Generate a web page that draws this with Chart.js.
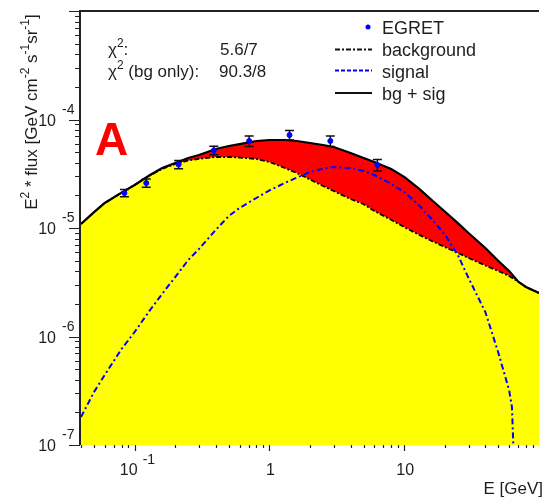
<!DOCTYPE html>
<html>
<head>
<meta charset="utf-8">
<script src="https://cdn.jsdelivr.net/npm/chart.js@4.4.0/dist/chart.umd.min.js"></script>
<style>
  body { margin: 0; background: #fff; }
</style>
</head>
<body>
<canvas id="spectrum" width="544" height="497"></canvas>
<script>
/* gamma-ray spectrum: EGRET points, background, signal and bg + sig */
const ENERGY = [0.04, 0.05, 0.06, 0.08, 0.1, 0.13, 0.16, 0.2, 0.25, 0.3, 0.4, 0.5, 0.6, 0.8,
  1, 1.3, 1.6, 2, 2.5, 3, 4, 5, 6, 8, 10, 13, 16, 20, 25, 30, 40, 50, 60, 70, 80, 100];

const BACKGROUND = [1.09e-5, 1.40e-5, 1.70e-5, 2.12e-5, 2.49e-5, 3.05e-5, 3.50e-5, 3.89e-5, 4.19e-5,
  4.33e-5, 4.51e-5, 4.51e-5, 4.46e-5, 4.33e-5, 4.06e-5, 3.57e-5, 3.21e-5, 2.80e-5, 2.44e-5, 2.19e-5,
  1.85e-5, 1.66e-5, 1.435e-5, 1.19e-5, 1.02e-5, 8.61e-6, 7.59e-6, 6.68e-6, 5.89e-6, 5.30e-6,
  4.51e-6, 4.02e-6, 3.61e-6, 3.21e-6, 2.86e-6, 2.52e-6];

const TOTAL = [1.09e-5, 1.40e-5, 1.70e-5, 2.12e-5, 2.49e-5, 3.08e-5, 3.57e-5, 3.97e-5, 4.42e-5,
  4.71e-5, 5.35e-5, 5.70e-5, 5.94e-5, 6.34e-5, 6.47e-5, 6.47e-5, 6.34e-5, 6.07e-5, 5.82e-5, 5.58e-5,
  4.91e-5, 4.42e-5, 4.06e-5, 3.50e-5, 2.96e-5, 2.28e-5, 1.81e-5, 1.42e-5, 1.11e-5, 8.99e-6,
  6.55e-6, 4.97e-6, 4.02e-6, 3.21e-6, 2.86e-6, 2.52e-6];

const SIGNAL_E = [0.04, 0.05, 0.06, 0.08, 0.1, 0.13, 0.16, 0.2, 0.25, 0.3, 0.4, 0.5, 0.6, 0.8,
  1, 1.3, 1.6, 2, 2.5, 3, 4, 5, 6, 8, 10, 13, 16, 20, 25, 30, 40, 50, 60, 63, 64.5];

const SIGNAL = [1.81e-7, 3.08e-7, 4.42e-7, 7.67e-7, 1.10e-6, 1.75e-6, 2.47e-6, 3.53e-6, 5.07e-6,
  6.40e-6, 9.60e-6, 1.29e-5, 1.53e-5, 1.89e-5, 2.22e-5, 2.60e-5, 2.92e-5, 3.28e-5, 3.53e-5, 3.65e-5,
  3.57e-5, 3.35e-5, 3.08e-5, 2.55e-5, 2.15e-5, 1.60e-5, 1.21e-5, 8.71e-6, 5.64e-6, 3.46e-6,
  1.68e-6, 7.05e-7, 3.21e-7, 2.24e-7, 1.0e-7];

// EGRET data with symmetric errors
const EGRET_E = [0.084, 0.122, 0.212, 0.387, 0.707, 1.41, 2.83, 6.32];
const EGRET_FLUX = [2.10e-5, 2.60e-5, 3.85e-5, 5.20e-5, 6.34e-5, 7.19e-5, 6.34e-5, 3.81e-5];
const EGRET_ERR = [0.16e-5, 0.23e-5, 0.34e-5, 0.46e-5, 0.71e-5, 0.72e-5, 0.71e-5, 0.46e-5];

// axis ticks
const Y_DECADES = [-7, -6, -5, -4];
const X_TICKS = [0.1, 1, 10];
const X_TICK_BASE = ['10', '1', '10'];
const X_TICK_EXP = ['-1', '', ''];

const FONT = '"Liberation Sans", Arial, sans-serif';
const INK = '#1e1e1e';
const BG_DASH = [5, 2, 2, 2];
const SIG_DASH = [6, 3, 2, 3];

const pts = (xs, ys) => xs.map((x, i) => ({ x: x, y: ys[i] }));

// text with raised pieces, parts = [[text, raised], ...]
function richWidth(ctx, parts, size, supSize) {
    let w = 0;
    parts.forEach(([t, up]) => {
        ctx.font = (up ? supSize : size) + 'px ' + FONT;
        w += ctx.measureText(t).width;
    });
    return w;
}
function richText(ctx, parts, x, y, size, supSize, rise) {
    let cx = x;
    parts.forEach(([t, up]) => {
        ctx.font = (up ? supSize : size) + 'px ' + FONT;
        ctx.fillText(t, cx, up ? y - rise : y);
        cx += ctx.measureText(t).width;
    });
}

const decorations = {
    id: 'decorations',
    beforeDatasetDraw(chart, args) {
        if (args.index !== 0) return;
        // error bars go under the markers
        const { ctx, scales: { x, y } } = chart;
        ctx.save();
        ctx.strokeStyle = '#111';
        ctx.lineWidth = 1.5;
        EGRET_E.forEach((e, i) => {
            const px = x.getPixelForValue(e);
            const top = y.getPixelForValue(EGRET_FLUX[i] + EGRET_ERR[i]);
            const bot = y.getPixelForValue(EGRET_FLUX[i] - EGRET_ERR[i]);
            ctx.beginPath();
            ctx.moveTo(px, top); ctx.lineTo(px, bot);
            ctx.moveTo(px - 4.5, top); ctx.lineTo(px + 4.5, top);
            ctx.moveTo(px - 4.5, bot); ctx.lineTo(px + 4.5, bot);
            ctx.stroke();
        });
        ctx.restore();
    },
    afterDraw(chart) {
        const { ctx, chartArea: a, scales: { x, y } } = chart;
        ctx.save();

        // frame
        ctx.strokeStyle = '#222';
        ctx.lineWidth = 2;
        ctx.beginPath();
        ctx.moveTo(a.left - 1, a.bottom);
        ctx.lineTo(a.left - 1, a.top);
        ctx.lineTo(a.right, a.top);
        ctx.stroke();

        // y ticks
        ctx.lineWidth = 1.2;
        ctx.beginPath();
        for (let d = -7; d <= -3; d++) {
            const py = Math.round(y.getPixelForValue(Math.pow(10, d))) + 0.5;
            ctx.moveTo(a.left - 12, py); ctx.lineTo(a.left - 1, py);
            if (d === -3) continue;
            for (let m = 2; m <= 9; m++) {
                const my = Math.round(y.getPixelForValue(m * Math.pow(10, d))) + 0.5;
                ctx.moveTo(a.left - 6, my); ctx.lineTo(a.left - 1, my);
            }
        }
        // x ticks
        for (let d = -2; d <= 1; d++) {
            for (let m = 1; m <= 9; m++) {
                const v = m * Math.pow(10, d);
                if (v < 0.04 || v > 100) continue;
                const px = Math.round(x.getPixelForValue(v)) + 0.5;
                ctx.moveTo(px, a.bottom); ctx.lineTo(px, a.bottom + (m === 1 ? 6 : 3));
            }
        }
        ctx.stroke();

        ctx.fillStyle = INK;
        ctx.textBaseline = 'alphabetic';

        // y tick labels
        Y_DECADES.forEach(d => {
            const py = y.getPixelForValue(Math.pow(10, d));
            ctx.font = '16px ' + FONT;
            ctx.textAlign = 'right';
            ctx.fillText('10', a.left - 25, py + 6);
            ctx.textAlign = 'left';
            ctx.font = '14px ' + FONT;
            ctx.fillText(String(d), a.left - 19, py - 6);
        });

        // x tick labels
        X_TICKS.forEach((v, i) => {
            const px = x.getPixelForValue(v);
            ctx.font = '16px ' + FONT;
            ctx.textAlign = 'center';
            if (X_TICK_EXP[i]) {
                ctx.fillText(X_TICK_BASE[i], px - 6, a.bottom + 30);
                ctx.textAlign = 'left';
                ctx.font = '14px ' + FONT;
                ctx.fillText(X_TICK_EXP[i], px + 8, a.bottom + 19);
            } else {
                ctx.fillText(X_TICK_BASE[i], px + 1, a.bottom + 30);
            }
        });

        // axis titles
        ctx.textAlign = 'right';
        ctx.font = '17px ' + FONT;
        ctx.fillText('E [GeV]', 543, a.bottom + 49);

        const yTitle = [['E', false], ['2', true], [' * flux [GeV cm', false], ['-2', true],
            [' s', false], ['-1', true], ['sr', false], ['-1', true], [']', false]];
        ctx.textAlign = 'left';
        const w = richWidth(ctx, yTitle, 17, 12);
        ctx.save();
        ctx.translate(37, 112);
        ctx.rotate(-Math.PI / 2);
        richText(ctx, yTitle, -w / 2, 0, 17, 12, 8);
        ctx.restore();

        // chi-square box
        ctx.fillStyle = INK;
        richText(ctx, [['\u03c7', false], ['2', true], [':', false]], 108, 55, 17, 12, 8);
        richText(ctx, [['\u03c7', false], ['2', true], [' (bg only):', false]], 108, 77, 17, 12, 8);
        ctx.font = '17px ' + FONT;
        ctx.fillText('5.6/7', 220, 55);
        ctx.fillText('90.3/8', 219, 77);

        // legend
        ctx.font = '18px ' + FONT;
        ctx.fillText('EGRET', 382, 34);
        ctx.fillText('background', 382, 56);
        ctx.fillText('signal', 382, 78);
        ctx.fillText('bg + sig', 382, 100);
        ctx.fillStyle = '#0000ff';
        ctx.beginPath();
        ctx.arc(368, 27, 2.5, 0, Math.PI * 2);
        ctx.fill();
        ctx.lineWidth = 2;
        ctx.strokeStyle = '#111';
        ctx.setLineDash(BG_DASH);
        ctx.beginPath(); ctx.moveTo(335, 49.5); ctx.lineTo(372, 49.5); ctx.stroke();
        ctx.strokeStyle = '#0000ff';
        ctx.setLineDash([4, 2]);
        ctx.beginPath(); ctx.moveTo(335, 70.5); ctx.lineTo(372, 70.5); ctx.stroke();
        ctx.strokeStyle = '#111';
        ctx.setLineDash([]);
        ctx.beginPath(); ctx.moveTo(335, 93); ctx.lineTo(372, 93); ctx.stroke();

        // panel letter
        ctx.fillStyle = '#ff0000';
        ctx.font = 'bold 46px ' + FONT;
        ctx.fillText('A', 95, 155);

        ctx.restore();
    }
};

const ctx = document.getElementById('spectrum');
const spectrumChart = new Chart(ctx, {
    type: 'line',
    data: {
        datasets: [
            {
                label: 'EGRET',
                data: pts(EGRET_E, EGRET_FLUX),
                showLine: false,
                pointRadius: 2.5,
                pointBackgroundColor: '#0000ff',
                pointBorderColor: '#0000ff',
                pointBorderWidth: 1
            },
            {
                label: 'signal',
                data: pts(SIGNAL_E, SIGNAL),
                borderColor: '#0000ff',
                borderWidth: 2,
                borderDash: SIG_DASH,
                pointRadius: 0,
                fill: false
            },
            {
                label: 'bg + sig',
                data: pts(ENERGY, TOTAL),
                borderColor: '#000',
                borderWidth: 2.2,
                pointRadius: 0,
                backgroundColor: '#ff0000',
                fill: '+1'
            },
            {
                label: 'background',
                data: pts(ENERGY, BACKGROUND),
                borderColor: '#000',
                borderWidth: 1.8,
                borderDash: BG_DASH,
                pointRadius: 0,
                backgroundColor: '#ffff00',
                fill: 'start'
            }
        ]
    },
    options: {
        responsive: false,
        animation: false,
        layout: { padding: { left: 81, top: 11, right: 0, bottom: 52 } },
        scales: {
            x: { type: 'logarithmic', min: 0.04, max: 100, display: false },
            y: { type: 'logarithmic', min: 1e-7, max: 1e-3, display: false }
        },
        plugins: {
            legend: { display: false },
            tooltip: { enabled: false },
            filler: { drawTime: 'beforeDatasetsDraw' }
        }
    },
    plugins: [decorations]
});
</script>
</body>
</html>
